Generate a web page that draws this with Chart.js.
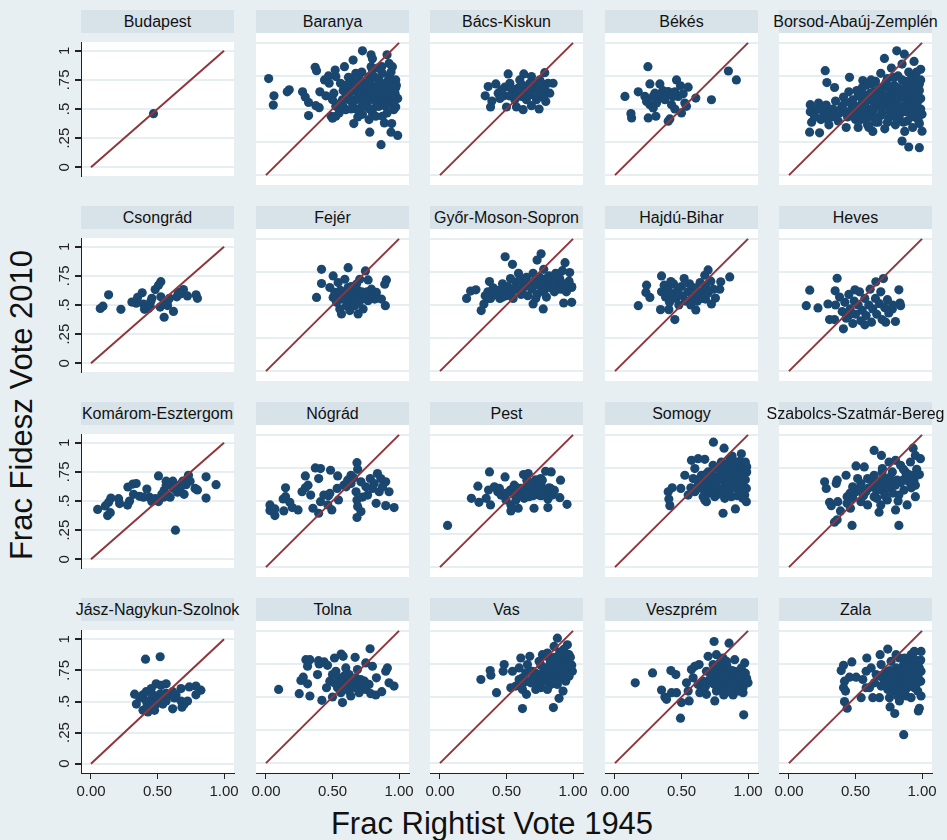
<!DOCTYPE html>
<html>
<head>
<meta charset="utf-8">
<script src="https://cdn.jsdelivr.net/npm/chart.js@4"></script>
<style>
body{margin:0;width:947px;height:840px;background:#e8eff2;position:relative;overflow:hidden;font-family:"Liberation Sans",Arial,Helvetica,sans-serif;color:#111}
.strip{position:absolute;height:23px;background:#d7e3e9;font-size:16px;line-height:23px;white-space:nowrap;display:flex;justify-content:center}
canvas{position:absolute}
.title{position:absolute;font-size:31px;line-height:36px;height:36px;text-align:center;white-space:nowrap}
</style>
</head>
<body>
<div class="title" style="left:292px;top:806px;width:400px">Frac Rightist Vote 1945</div>
<div class="title" style="left:-178px;top:387px;width:400px;transform:rotate(-90deg)">Frac Fidesz Vote 2010</div>
<script>
const xTicks = [0, 0.5, 1]
const xTickLabels = ["0.00", "0.50", "1.00"]
const yTicks = [0, 0.25, 0.5, 0.75, 1]
const yTickLabels = ["0", ".25", ".5", ".75", "1"]
const refLine = [[0, 0], [1, 1]]

const panelNames = ["Budapest", "Baranya", "Bács-Kiskun", "Békés", "Borsod-Abaúj-Zemplén",
    "Csongrád", "Fejér", "Győr-Moson-Sopron", "Hajdú-Bihar", "Heves",
    "Komárom-Esztergom", "Nógrád", "Pest", "Somogy", "Szabolcs-Szatmár-Bereg",
    "Jász-Nagykun-Szolnok", "Tolna", "Vas", "Veszprém", "Zala"]

const budapest = [[0.47,0.46]]
const baranya = [[0.02,0.73],[0.06,0.60],[0.055,0.53],[0.16,0.63],[0.175,0.645],[0.275,0.63],[0.295,0.59],[0.32,0.55],[0.32,0.45],[0.37,0.815],[0.38,0.79],[0.405,0.63],[0.375,0.525],[0.40,0.51],[0.44,0.72],[0.47,0.75],[0.52,0.795],[0.59,0.82],[0.45,0.60],[0.49,0.445],[0.50,0.43],[0.655,0.87],[0.725,0.94],[0.79,0.91],[0.80,0.88],[0.91,0.91],[0.66,0.39],[0.69,0.44],[0.78,0.325],[0.865,0.23],[0.89,0.395],[0.945,0.39],[0.94,0.325],[0.99,0.30],[0.925,0.845],[0.95,0.82],[0.975,0.66],[0.99,0.58],[0.975,0.515],
    [0.575,0.57],[0.60,0.62],[0.625,0.67],[0.65,0.72],[0.675,0.77],[0.70,0.595],[0.725,0.645],[0.75,0.695],[0.775,0.745],[0.80,0.795],[0.825,0.67],[0.85,0.72],[0.875,0.77],[0.90,0.695],[0.925,0.745],[0.95,0.67],[0.975,0.72],[0.925,0.62],[0.89,0.57],[0.85,0.52],[0.80,0.47],[0.75,0.52],[0.70,0.495],[0.65,0.545],[0.60,0.495],[0.55,0.47],[0.525,0.52],[0.56,0.545],[0.675,0.57],[0.725,0.57],[0.775,0.595],[0.81,0.57],[0.84,0.62],[0.875,0.63],[0.95,0.57],[0.96,0.495],[0.91,0.47],[0.875,0.445],[0.825,0.445],[0.775,0.42],[0.725,0.46],[0.625,0.57],[0.675,0.645],[0.79,0.645],[0.525,0.445],[0.50,0.57],[0.525,0.745],[0.56,0.695],[0.475,0.695],[0.51,0.62],[0.79,0.82],[0.84,0.81],[0.94,0.78],
    [0.62,0.74],[0.70,0.68],[0.74,0.62],[0.82,0.60],[0.86,0.66],[0.88,0.54],[0.92,0.56],[0.68,0.50],[0.58,0.64],[0.76,0.54],[0.97,0.62],[0.93,0.68],
    [0.60,0.68],[0.63,0.62],[0.66,0.66],[0.69,0.62],[0.71,0.72],[0.73,0.68],[0.76,0.66],[0.78,0.70],[0.80,0.62],[0.82,0.74],[0.84,0.56],[0.86,0.60],[0.88,0.68],[0.90,0.64],[0.92,0.72],[0.94,0.60],[0.96,0.54],[0.98,0.68],[0.72,0.52],[0.64,0.50],[0.58,0.52],[0.78,0.50],[0.83,0.52],[0.90,0.52],[0.87,0.82],[0.72,0.78],[0.67,0.70],[0.61,0.58]]
const bacsKiskun = [[0.3625,0.67],[0.42,0.69],[0.34,0.60],[0.39,0.56],[0.38,0.515],[0.4375,0.62],[0.48,0.60],[0.5125,0.765],[0.63,0.765],[0.4875,0.665],[0.525,0.695],[0.50,0.515],[0.575,0.515],[0.625,0.495],[0.6875,0.525],[0.745,0.50],[0.7875,0.775],[0.85,0.695],[0.825,0.62],[0.795,0.5575],
    [0.55,0.62],[0.5875,0.6575],[0.6125,0.595],[0.65,0.645],[0.675,0.695],[0.70,0.6075],[0.725,0.6575],[0.75,0.72],[0.7625,0.595],[0.7875,0.645],[0.8125,0.695],[0.5625,0.57],[0.65,0.57],[0.725,0.57],[0.6875,0.745],[0.60,0.72],[0.5375,0.6575],[0.4625,0.645],[0.62,0.68],[0.70,0.66],[0.74,0.62],[0.58,0.60],[0.66,0.60],[0.77,0.69],[0.52,0.60],[0.45,0.58],
    [0.64,0.62],[0.68,0.64],[0.72,0.60],[0.76,0.64],[0.70,0.70],[0.78,0.60],[0.60,0.64],[0.66,0.66]]
const bekes = [[0.2475,0.82],[0.075,0.595],[0.175,0.63],[0.2625,0.69],[0.3375,0.69],[0.12,0.465],[0.125,0.4325],[0.25,0.4325],[0.3075,0.445],[0.40,0.4075],[0.4125,0.425],[0.4625,0.72],[0.4925,0.675],[0.55,0.665],[0.6075,0.5825],[0.725,0.57],[0.8525,0.7875],[0.9125,0.72],
    [0.225,0.595],[0.2375,0.5575],[0.2625,0.5325],[0.2875,0.5075],[0.325,0.5825],[0.35,0.62],[0.375,0.57],[0.40,0.6325],[0.425,0.5325],[0.45,0.50],[0.475,0.595],[0.5125,0.615],[0.525,0.545],[0.50,0.47],[0.5375,0.52],[0.3125,0.545],[0.2875,0.595],[0.4375,0.595],[0.36,0.64],[0.39,0.60],[0.45,0.63],[0.30,0.62]]
const borsod = [[0.2725,0.79],[0.16,0.5325],[0.155,0.325],[0.23,0.32],[0.2225,0.545],[0.285,0.70],[0.3425,0.6625],[0.455,0.74],[0.555,0.715],[0.6175,0.72],[0.7175,0.8825],[0.81,0.94],[0.8675,0.915],[0.85,0.2575],[0.90,0.2125],[0.98,0.2075],[1.0,0.3325],
    [0.16,0.48],[0.17,0.40],[0.19,0.45],[0.21,0.5],[0.24,0.42],[0.26,0.47],[0.28,0.53],[0.3,0.38],[0.32,0.44],[0.33,0.5],[0.35,0.56],[0.37,0.41],[0.38,0.47],[0.4,0.52],[0.41,0.59],[0.43,0.36],[0.44,0.44],[0.45,0.63],
    [0.47,0.5],[0.48,0.57],[0.5,0.42],[0.51,0.64],[0.52,0.36],[0.53,0.48],[0.55,0.55],[0.56,0.61],[0.57,0.44],[0.58,0.68],[0.59,0.38],[0.6,0.5],[0.62,0.57],[0.63,0.33],[0.63,0.45],[0.64,0.63],[0.65,0.71],[0.66,0.52],[0.67,0.4],[0.68,0.59],[0.69,0.77],[0.7,0.47],[0.71,0.66],[0.72,0.35],[0.73,0.55],[0.74,0.73],[0.75,0.43],[0.76,0.61],[0.77,0.81],[0.78,0.5],[0.79,0.68],[0.8,0.38],[0.81,0.57],[0.82,0.75],[0.83,0.45],[0.84,0.64],[0.85,0.84],[0.86,0.52],[0.87,0.33],[0.87,0.71],[0.88,0.6],[0.89,0.41],[0.9,0.78],[0.91,0.49],[0.92,0.67],[0.93,0.36],[0.93,0.56],[0.94,0.86],[0.95,0.44],[0.95,0.74],[0.96,0.62],[0.97,0.51],[0.98,0.69],[0.98,0.39],[0.99,0.8],[0.99,0.58],[1.0,0.46],[0.62,0.69],[0.7,0.6],[0.8,0.46],[0.9,0.55],[0.85,0.62],[0.75,0.52],
    [0.46,0.55],[0.49,0.46],[0.52,0.6],[0.54,0.42],[0.56,0.5],[0.58,0.56],[0.6,0.44],[0.61,0.62],[0.64,0.5],[0.65,0.4],[0.67,0.56],[0.68,0.66],[0.69,0.45],[0.71,0.52],[0.72,0.6],[0.73,0.7],[0.74,0.4],[0.76,0.48],[0.77,0.56],[0.78,0.64],[0.79,0.74],[0.8,0.54],[0.81,0.43],[0.82,0.66],[0.83,0.58],[0.84,0.5],[0.85,0.72],[0.86,0.4],[0.86,0.6],[0.88,0.48],[0.88,0.68],[0.89,0.56],[0.9,0.64],[0.91,0.72],[0.92,0.44],[0.92,0.52],[0.94,0.6],[0.94,0.7],[0.96,0.47],[0.96,0.78],[0.97,0.56],[0.98,0.64],[0.99,0.5],[0.99,0.72],[0.55,0.66],[0.6,0.36],[0.66,0.6],[0.7,0.55],[0.75,0.66],[0.8,0.6],[0.87,0.52],[0.93,0.64],[0.97,0.42],[0.35,0.45],[0.39,0.5],[0.42,0.48],[0.3,0.47],[0.27,0.43],[0.2,0.44],[0.25,0.52],[0.42,0.55],[0.5,0.52],[0.57,0.6],[0.63,0.56]]
const csongrad = [[0.07,0.47],[0.09,0.49],[0.1325,0.5875],[0.225,0.4625],[0.3075,0.525],[0.34,0.515],[0.35,0.565],[0.385,0.605],[0.395,0.5075],[0.4025,0.4625],[0.4325,0.47],[0.445,0.49],[0.4575,0.5575],[0.45,0.5325],[0.4825,0.6325],[0.5075,0.67],[0.525,0.70],[0.525,0.57],[0.52,0.4825],[0.545,0.5075],[0.55,0.395],[0.575,0.5325],[0.59,0.5575],[0.575,0.495],[0.62,0.445],[0.645,0.57],[0.6575,0.6075],[0.695,0.6325],[0.67,0.595],[0.725,0.5775],[0.79,0.5875],[0.80,0.5575]]
const fejer = [[0.4175,0.77],[0.4175,0.6625],[0.38,0.5575],[0.505,0.72],[0.6175,0.7825],[0.7475,0.7575],[0.7675,0.69],[0.905,0.69],[0.8925,0.6575],[0.5675,0.4325],[0.6925,0.4325],[0.8975,0.495],
    [0.48,0.6325],[0.5175,0.595],[0.5425,0.67],[0.5925,0.695],[0.5675,0.545],[0.605,0.495],[0.6425,0.57],[0.68,0.6575],[0.6925,0.6075],[0.6175,0.6325],[0.53,0.52],[0.555,0.47],[0.6675,0.495],[0.7175,0.545],[0.7425,0.5825],[0.7925,0.62],[0.83,0.595],[0.8175,0.545],[0.8675,0.545],[0.7675,0.5325],[0.73,0.47],[0.63,0.4575],[0.505,0.5575],[0.5925,0.5825],[0.655,0.5325],[0.705,0.695],[0.7925,0.57],[0.56,0.61],[0.64,0.64],[0.70,0.58],[0.60,0.54],[0.76,0.60],
    [0.62,0.60],[0.66,0.56],[0.68,0.62],[0.72,0.60],[0.75,0.56],[0.78,0.58],[0.58,0.56],[0.64,0.52],[0.70,0.52],[0.55,0.59]]
const gyor = [[0.49,0.865],[0.76,0.8875],[0.73,0.84],[0.545,0.8075],[0.94,0.82],[0.20,0.55],[0.23,0.605],[0.27,0.615],[0.31,0.4575],[0.33,0.5075],[0.372,0.6775],[0.70,0.5075],[0.776,0.47],[0.93,0.515],[0.99,0.52],[0.975,0.745],[0.99,0.6325],
    [0.34,0.57],[0.36,0.6],[0.38,0.55],[0.4,0.63],[0.42,0.58],[0.44,0.61],[0.45,0.55],[0.47,0.66],[0.48,0.6],[0.5,0.57],[0.51,0.64],[0.53,0.7],[0.54,0.6],[0.55,0.55],[0.57,0.67],[0.58,0.62],[0.59,0.74],[0.61,0.58],[0.62,0.68],[0.63,0.64],[0.65,0.71],[0.66,0.57],[0.67,0.66],[0.69,0.62],[0.7,0.74],[0.71,0.68],[0.73,0.58],[0.74,0.65],[0.75,0.71],[0.77,0.62],[0.78,0.77],[0.79,0.67],[0.8,0.56],[0.82,0.72],[0.83,0.63],[0.84,0.68],[0.86,0.6],[0.87,0.74],[0.88,0.66],[0.9,0.7],[0.91,0.62],[0.92,0.76],[0.94,0.66],[0.95,0.6],[0.97,0.68],[0.99,0.64],[0.4,0.58],[0.47,0.56],[0.6,0.7],[0.72,0.55],
    [0.62,0.62],[0.64,0.68],[0.68,0.64],[0.72,0.66],[0.76,0.64],[0.78,0.60],[0.80,0.70],[0.82,0.64],[0.85,0.66],[0.88,0.62],[0.89,0.70],[0.93,0.64],[0.96,0.66],[0.56,0.62],[0.52,0.58],[0.44,0.57],[0.36,0.55]]
const hajdu = [[0.175,0.495],[0.2375,0.65],[0.2325,0.595],[0.2625,0.5575],[0.35,0.72],[0.42,0.6775],[0.3425,0.465],[0.405,0.465],[0.45,0.39],[0.70,0.765],[0.675,0.725],[0.8625,0.7125],[0.795,0.675],[0.7875,0.62],[0.755,0.5525],[0.725,0.5075],[0.68,0.545],[0.6075,0.4625],
    [0.35,0.6],[0.37,0.65],[0.38,0.56],[0.4,0.62],[0.41,0.52],[0.43,0.58],[0.44,0.66],[0.46,0.55],[0.47,0.61],[0.48,0.5],[0.5,0.64],[0.51,0.57],[0.52,0.7],[0.53,0.53],[0.55,0.6],[0.56,0.66],[0.57,0.5],[0.58,0.56],[0.6,0.63],[0.61,0.58],[0.62,0.53],[0.64,0.67],[0.65,0.6],[0.66,0.55],[0.68,0.64],[0.7,0.59],[0.72,0.68],[0.74,0.62]]
const heves = [[0.13,0.495],[0.156,0.6125],[0.218,0.4775],[0.362,0.7025],[0.293,0.5075],[0.305,0.39],[0.342,0.39],[0.347,0.6075],[0.409,0.32],[0.496,0.615],[0.71,0.70],[0.653,0.675],[0.826,0.615],[0.834,0.515],[0.839,0.495],[0.727,0.37],[0.80,0.375],[0.777,0.47],
    [0.35,0.5],[0.38,0.56],[0.4,0.45],[0.42,0.52],[0.43,0.4],[0.45,0.58],[0.46,0.47],[0.48,0.36],[0.49,0.53],[0.5,0.43],[0.52,0.5],[0.53,0.6],[0.54,0.38],[0.55,0.46],[0.57,0.55],[0.58,0.42],[0.6,0.5],[0.61,0.62],[0.62,0.37],[0.63,0.47],[0.65,0.55],[0.66,0.43],[0.68,0.51],[0.69,0.6],[0.7,0.39],[0.72,0.48],[0.74,0.54],[0.75,0.44],[0.78,0.5],[0.57,0.35],[0.45,0.42]]
const komarom = [[0.05,0.4275],[0.1075,0.4575],[0.1325,0.49],[0.15,0.525],[0.125,0.375],[0.145,0.40],[0.2075,0.52],[0.215,0.4775],[0.275,0.465],[0.29,0.50],[0.32,0.5575],[0.2775,0.62],[0.315,0.645],[0.34,0.65],[0.365,0.54],[0.395,0.5325],[0.42,0.6025],[0.44,0.5325],[0.4575,0.495],[0.5075,0.495],[0.5075,0.715],[0.5325,0.5575],[0.55,0.59],[0.565,0.6325],[0.575,0.545],[0.595,0.5325],[0.615,0.67],[0.6325,0.6325],[0.65,0.575],[0.67,0.6075],[0.70,0.5575],[0.715,0.64],[0.7325,0.72],[0.72,0.6825],[0.745,0.67],[0.635,0.25],[0.7825,0.6075],[0.80,0.595],[0.865,0.7075],[0.865,0.525],[0.94,0.64],
    [0.565,0.67],[0.59,0.6575],[0.62,0.6075],[0.67,0.64],[0.69,0.67],[0.545,0.5325],[0.4825,0.52]]
const nograd = [[0.03,0.47],[0.03,0.4275],[0.067,0.39],[0.067,0.44],[0.134,0.425],[0.129,0.515],[0.147,0.5325],[0.147,0.60],[0.179,0.49],[0.197,0.45],[0.241,0.4325],[0.271,0.57],[0.296,0.60],[0.316,0.62],[0.296,0.69],[0.371,0.75],[0.410,0.745],[0.485,0.7325],[0.539,0.69],[0.396,0.67],[0.336,0.545],[0.353,0.445],[0.396,0.4075],[0.410,0.495],[0.435,0.545],[0.470,0.54],[0.495,0.4325],[0.465,0.47],[0.480,0.5575],[0.535,0.595],[0.545,0.5075],[0.585,0.62],[0.614,0.6575],[0.639,0.695],[0.684,0.79],[0.689,0.74],[0.677,0.57],[0.684,0.5075],[0.689,0.4575],[0.684,0.375],[0.714,0.42],[0.726,0.53],
    [0.751,0.6075],[0.784,0.67],[0.813,0.6325],[0.838,0.7075],[0.863,0.67],[0.851,0.57],[0.900,0.645],[0.925,0.57],[0.828,0.4825],[0.900,0.465],[0.963,0.45],[0.764,0.545],[0.801,0.595],[0.876,0.6075],[0.639,0.6325],[0.602,0.6075],[0.714,0.645],[0.659,0.675]]
const pest = [[0.057,0.315],[0.236,0.52],[0.293,0.49],[0.285,0.6125],[0.372,0.72],[0.365,0.5825],[0.347,0.52],[0.380,0.47],[0.409,0.6075],[0.434,0.57],[0.459,0.545],[0.489,0.6825],[0.496,0.5075],[0.533,0.425],[0.588,0.445],[0.533,0.47],[0.529,0.5825],[0.558,0.62],[0.588,0.5575],[0.608,0.595],[0.628,0.70],[0.663,0.7075],[0.653,0.6575],
    [0.670,0.5325],[0.682,0.57],[0.707,0.445],[0.712,0.62],[0.732,0.645],[0.757,0.67],[0.782,0.5575],[0.794,0.725],[0.836,0.72],[0.769,0.6575],[0.811,0.515],[0.811,0.45],[0.906,0.6575],[0.901,0.525],[0.955,0.475],[0.831,0.595],[0.844,0.545],[0.744,0.545],[0.633,0.52],[0.571,0.5075],[0.447,0.595],
    [0.60,0.56],[0.66,0.60],[0.72,0.57],[0.76,0.62],[0.78,0.58],[0.70,0.64],[0.64,0.53],[0.56,0.55],[0.50,0.56],[0.82,0.60],
    [0.62,0.58],[0.68,0.60],[0.74,0.60],[0.80,0.56],[0.70,0.54],[0.66,0.64],[0.76,0.54],[0.58,0.60],[0.86,0.58],[0.72,0.66]]
const somogy = [[0.4125,0.465],[0.405,0.515],[0.40,0.57],[0.43,0.60],[0.495,0.595],[0.525,0.695],[0.575,0.8075],[0.625,0.82],[0.675,0.815],[0.60,0.745],[0.74,0.945],[0.82,0.90],[0.95,0.8575],[0.8125,0.4075],[0.905,0.44],[0.6875,0.495],[0.675,0.5075],[0.75,0.5325],[0.825,0.52],[0.875,0.5325],[0.9875,0.495],[0.975,0.545],[0.99,0.72],[0.98,0.795],
    [0.55,0.545],[0.60,0.57],[0.625,0.62],[0.5875,0.67],[0.65,0.695],[0.70,0.6575],[0.725,0.6075],[0.7625,0.67],[0.775,0.745],[0.80,0.795],[0.85,0.77],[0.8875,0.72],[0.925,0.695],[0.9625,0.6575],[0.9875,0.595],[0.9375,0.57],[0.875,0.595],[0.825,0.62],[0.80,0.57],[0.75,0.57],[0.70,0.5575],[0.6625,0.5325],[0.65,0.595],[0.70,0.72],[0.7375,0.77],[0.8375,0.67],[0.90,0.645],[0.95,0.7575],[0.8625,0.82],[0.9125,0.795],[0.7875,0.695],[0.725,0.7075],[0.675,0.645],[0.8125,0.72],
    [0.66,0.60],[0.68,0.70],[0.71,0.63],[0.73,0.68],[0.76,0.62],[0.78,0.66],[0.79,0.58],[0.81,0.68],[0.83,0.74],[0.84,0.60],[0.86,0.64],[0.87,0.70],[0.89,0.60],[0.89,0.76],[0.91,0.66],[0.92,0.72],[0.93,0.62],[0.94,0.80],[0.95,0.64],[0.96,0.70],[0.97,0.60],[0.98,0.66],[0.99,0.76],[0.85,0.56],[0.92,0.54],[0.77,0.55],[0.72,0.58],[0.62,0.66],[0.57,0.60],[0.82,0.78],[0.96,0.52],[0.88,0.84]]
const szabolcs = [[0.268,0.645],[0.280,0.595],[0.362,0.6575],[0.355,0.6325],[0.305,0.49],[0.318,0.465],[0.367,0.495],[0.387,0.425],[0.342,0.34],[0.362,0.3575],[0.474,0.315],[0.826,0.315],[0.640,0.8825],[0.695,0.845],[0.933,0.90],[0.950,0.845],[0.988,0.82],[0.913,0.795],[0.429,0.695],[0.504,0.765],[0.566,0.7575],[0.437,0.5325],[0.462,0.445],[0.437,0.4825],
    [0.504,0.57],[0.541,0.6325],[0.591,0.67],[0.640,0.695],[0.702,0.745],[0.752,0.795],[0.801,0.8075],[0.839,0.77],[0.876,0.72],[0.926,0.695],[0.950,0.62],[0.950,0.5325],[0.888,0.47],[0.801,0.4325],[0.677,0.415],[0.591,0.47],[0.541,0.495],[0.640,0.5325],[0.715,0.57],[0.764,0.62],[0.814,0.6575],[0.864,0.5825],[0.901,0.645],[0.739,0.5075],[0.690,0.47],[0.578,0.57],[0.628,0.6075],[0.677,0.645],[0.727,0.67],[0.777,0.72],[0.826,0.545],[0.516,0.67],[0.479,0.6075],
    [0.60,0.60],[0.66,0.58],[0.72,0.62],[0.78,0.56],[0.84,0.64],[0.88,0.68],[0.70,0.72],[0.62,0.66],[0.76,0.68],[0.56,0.54],[0.82,0.50],[0.92,0.60],
    [0.64,0.62],[0.68,0.60],[0.70,0.66],[0.74,0.60],[0.80,0.62],[0.86,0.66],[0.90,0.70],[0.94,0.66],[0.96,0.74],[0.98,0.70],[0.66,0.52],[0.72,0.54],[0.86,0.74],[0.54,0.60],[0.46,0.56],[0.48,0.52]]
const jasz = [[0.41,0.84],[0.52,0.86],[0.328,0.559],[0.341,0.479],[0.391,0.554],[0.415,0.579],[0.453,0.604],[0.49,0.642],[0.527,0.629],[0.565,0.642],[0.59,0.554],[0.614,0.579],[0.627,0.529],[0.515,0.529],[0.49,0.479],[0.453,0.454],[0.428,0.416],[0.391,0.429],[0.453,0.516],[0.54,0.479],[0.565,0.504],[0.639,0.554],[0.677,0.604],[0.677,0.504],[0.684,0.454],[0.701,0.479],[0.726,0.504],[0.739,0.617],[0.789,0.554],[0.789,0.624],[0.826,0.591],[0.614,0.441],[0.478,0.429],[0.415,0.504],[0.366,0.529],[0.565,0.566],[0.465,0.554],
    [0.44,0.50],[0.50,0.52],[0.47,0.47],[0.52,0.56],[0.42,0.46]]
const tolna = [[0.095,0.5575],[0.25,0.525],[0.33,0.5075],[0.42,0.475],[0.50,0.50],[0.575,0.4575],[0.2625,0.625],[0.28,0.65],[0.3125,0.60],[0.30,0.7825],[0.33,0.7825],[0.3125,0.7325],[0.3875,0.67],[0.40,0.75],[0.395,0.775],[0.4375,0.765],[0.4625,0.74],[0.515,0.795],[0.565,0.825],[0.58,0.8075],[0.67,0.80],[0.7825,0.865],[0.75,0.7575],[0.80,0.7325],
    [0.455,0.57],[0.48,0.62],[0.50,0.67],[0.525,0.695],[0.55,0.645],[0.575,0.595],[0.60,0.72],[0.625,0.67],[0.65,0.62],[0.675,0.57],[0.6875,0.7075],[0.70,0.5325],[0.725,0.595],[0.75,0.5575],[0.775,0.595],[0.625,0.545],[0.6375,0.5075],[0.5375,0.57],[0.5625,0.5325],[0.60,0.62],[0.675,0.645],[0.5125,0.6075],[0.7125,0.6325],
    [0.7875,0.525],[0.825,0.515],[0.87,0.54],[0.83,0.645],[0.90,0.695],[0.9125,0.72],[0.925,0.6075],[0.9625,0.5825],
    [0.59,0.66],[0.62,0.60],[0.66,0.58],[0.68,0.62],[0.70,0.60],[0.72,0.56],[0.64,0.64],[0.56,0.62],[0.74,0.62],[0.60,0.58]]
const vas = [[0.3075,0.6325],[0.3775,0.70],[0.3825,0.665],[0.425,0.5325],[0.4825,0.745],[0.475,0.695],[0.62,0.4125],[0.8525,0.42],[0.895,0.49],[0.925,0.545],[0.5325,0.57],[0.57,0.5825],[0.62,0.5575],[0.65,0.52],[0.6075,0.795],[0.675,0.8075],[0.77,0.82],[0.8075,0.8325],[0.8575,0.8825],[0.8825,0.945],[0.9575,0.895],[0.97,0.82],[0.9825,0.745],[0.995,0.695],[0.97,0.6575],
    [0.545,0.695],[0.595,0.72],[0.62,0.645],[0.6575,0.745],[0.695,0.695],[0.72,0.62],[0.745,0.77],[0.77,0.67],[0.795,0.72],[0.82,0.795],[0.8325,0.595],[0.87,0.745],[0.895,0.67],[0.92,0.77],[0.945,0.62],[0.8575,0.645],[0.7575,0.57],[0.72,0.5575],[0.6825,0.6075],[0.7825,0.62],[0.8825,0.595],[0.92,0.82],[0.8075,0.5575],[0.595,0.6325],[0.645,0.6825],[0.845,0.695],[0.9325,0.7075],
    [0.75,0.65],[0.80,0.68],[0.85,0.72],[0.90,0.78],[0.95,0.75],[0.97,0.70],[0.88,0.62],[0.78,0.70],[0.83,0.76],[0.93,0.66],[0.70,0.64],[0.65,0.62],[0.74,0.58],[0.86,0.80],[0.96,0.82],
    [0.72,0.68],[0.76,0.74],[0.79,0.64],[0.81,0.70],[0.84,0.66],[0.86,0.62],[0.87,0.70],[0.89,0.74],[0.91,0.70],[0.92,0.64],[0.94,0.72],[0.95,0.78],[0.96,0.66],[0.98,0.80],[0.99,0.74],[0.90,0.84],[0.93,0.86],[0.82,0.64],[0.67,0.70],[0.62,0.60]]
const veszprem = [[0.1525,0.6075],[0.2825,0.6825],[0.35,0.5525],[0.375,0.50],[0.3875,0.4825],[0.425,0.5325],[0.4625,0.5325],[0.42,0.70],[0.4575,0.67],[0.4925,0.34],[0.50,0.4575],[0.5575,0.47],[0.745,0.92],[0.8575,0.9075],[0.9675,0.365],[0.75,0.47],[0.8175,0.515],[0.8875,0.515],[0.9625,0.5325],[0.70,0.8075],[0.7625,0.82],[0.8125,0.795],[0.90,0.7825],[0.975,0.7575],[0.9875,0.6325],[1.0,0.6075],
    [0.5375,0.6075],[0.55,0.545],[0.575,0.7075],[0.60,0.7325],[0.6325,0.745],[0.5875,0.645],[0.625,0.595],[0.6625,0.545],[0.6875,0.695],[0.7125,0.62],[0.7375,0.745],[0.775,0.67],[0.80,0.5825],[0.825,0.72],[0.85,0.6325],[0.875,0.5575],[0.90,0.695],[0.925,0.6075],[0.95,0.72],[0.9625,0.57],[0.7625,0.545],[0.6875,0.52],[0.6375,0.5325],[0.8375,0.77],[0.7875,0.7575],[0.75,0.595],[0.875,0.6575],[0.925,0.545],[0.8125,0.62],[0.725,0.67],
    [0.70,0.62],[0.74,0.60],[0.80,0.64],[0.84,0.68],[0.86,0.58],[0.90,0.64],[0.94,0.66],[0.78,0.70],[0.66,0.62],[0.82,0.55],[0.92,0.58],[0.98,0.68],
    [0.72,0.65],[0.76,0.62],[0.78,0.66],[0.79,0.60],[0.81,0.68],[0.83,0.62],[0.85,0.66],[0.87,0.62],[0.88,0.70],[0.89,0.60],[0.91,0.66],[0.93,0.62],[0.95,0.62],[0.96,0.66],[0.97,0.60],[0.99,0.64],[0.84,0.74],[0.74,0.70],[0.68,0.58],[0.86,0.54]]
const zala = [[0.3925,0.70],[0.41,0.74],[0.4725,0.765],[0.585,0.795],[0.685,0.82],[0.7425,0.8625],[0.4175,0.62],[0.41,0.57],[0.425,0.545],[0.455,0.65],[0.505,0.65],[0.4175,0.465],[0.4375,0.415],[0.5425,0.495],[0.63,0.495],[0.68,0.495],[0.76,0.425],[0.795,0.375],[0.83,0.47],[0.8625,0.215],[0.9725,0.395],[0.98,0.415],[0.9425,0.845],[0.9925,0.845],[0.98,0.77],[0.9925,0.5075],
    [0.58,0.695],[0.6175,0.72],[0.655,0.67],[0.6925,0.745],[0.73,0.695],[0.7675,0.77],[0.805,0.72],[0.83,0.795],[0.855,0.67],[0.8925,0.745],[0.9175,0.82],[0.955,0.695],[0.98,0.62],[0.9425,0.57],[0.8925,0.595],[0.8425,0.57],[0.7925,0.545],[0.7425,0.5575],[0.6925,0.5825],[0.6425,0.6075],[0.605,0.57],[0.705,0.645],[0.78,0.6325],[0.88,0.5075],[0.9175,0.495],[0.8175,0.5075],[0.755,0.495],[0.555,0.6325],[0.58,0.57],[0.9675,0.545],[0.805,0.82],[0.8675,0.795],[0.93,0.645],[0.9925,0.695],
    [0.72,0.62],[0.76,0.70],[0.82,0.66],[0.86,0.74],[0.90,0.68],[0.94,0.74],[0.96,0.60],[0.88,0.56],[0.84,0.60],[0.78,0.58],[0.98,0.72],[0.92,0.80],
    [0.74,0.66],[0.77,0.60],[0.80,0.68],[0.81,0.62],[0.83,0.70],[0.85,0.64],[0.87,0.62],[0.88,0.72],[0.89,0.66],[0.91,0.62],[0.91,0.72],[0.93,0.68],[0.95,0.62],[0.95,0.78],[0.97,0.66],[0.99,0.62],[0.99,0.78],[0.86,0.54],[0.90,0.58],[0.75,0.62],[0.68,0.66],[0.94,0.84]]

const panelPoints = [budapest, baranya, bacsKiskun, bekes, borsod,
    csongrad, fejer, gyor, hajdu, heves,
    komarom, nograd, pest, somogy, szabolcs,
    jasz, tolna, vas, veszprem, zala]

const plotBg = {
    id: "plotBg",
    beforeDraw(chart) {
        const { ctx, chartArea: a } = chart
        ctx.save()
        ctx.fillStyle = "#ffffff"
        ctx.fillRect(a.left, a.top, a.right - a.left, a.bottom - a.top)
        ctx.restore()
    }
}

const tickFont = { family: "'Liberation Sans', Arial, sans-serif", size: 15 }

panelNames.forEach((name, i) => {
    const r = Math.floor(i / 5), c = i % 5
    const left = Math.round(81 + 174.5 * c)
    const top = 33 + 196 * r
    const padL = c == 0 ? 50 : 14, padR = 14
    const padB = r == 3 ? 45 : 0

    const strip = document.createElement("div")
    strip.className = "strip"
    strip.style.left = left + "px"
    strip.style.top = (top - 23) + "px"
    strip.style.width = "153px"
    strip.innerHTML = "<span>" + name + "</span>"
    document.body.appendChild(strip)

    const cv = document.createElement("canvas")
    cv.width = 153 + padL + padR
    cv.height = 152 + padB
    cv.style.left = (left - padL) + "px"
    cv.style.top = top + "px"
    document.body.appendChild(cv)

    new Chart(cv.getContext("2d"), {
        type: "scatter",
        data: {
            datasets: [
                {
                    type: "line",
                    data: refLine.map(p => ({ x: p[0], y: p[1] })),
                    borderColor: "#90353b",
                    borderWidth: 2,
                    pointRadius: 0,
                    fill: false
                },
                {
                    data: panelPoints[i].map(p => ({ x: p[0], y: p[1] })),
                    backgroundColor: "#1a476f",
                    borderWidth: 0,
                    pointRadius: 4.6
                }
            ]
        },
        options: {
            responsive: false,
            animation: false,
            layout: { autoPadding: false, padding: { left: c == 0 ? 0 : padL, right: padR, top: 0, bottom: 0 } },
            plugins: { legend: { display: false }, tooltip: { enabled: false } },
            scales: {
                x: {
                    min: -0.075, max: 1.075,
                    afterBuildTicks: s => { s.ticks = xTicks.map(v => ({ value: v })) },
                    afterFit: s => { s.height = padB },
                    ticks: { display: r == 3, font: tickFont, color: "#222", padding: 4, maxRotation: 0, callback: (v, k) => xTickLabels[k] },
                    grid: { display: r == 3, drawOnChartArea: false, tickLength: 6, tickColor: "#222" },
                    border: { display: r == 3, color: "#222", width: 1 }
                },
                y: {
                    min: -0.075, max: 1.075,
                    afterBuildTicks: s => { s.ticks = yTicks.map(v => ({ value: v })) },
                    afterFit: s => { s.width = c == 0 ? 50 : 0 },
                    ticks: { display: c == 0, font: tickFont, color: "#222", padding: 0, minRotation: 90, maxRotation: 90, crossAlign: "center", callback: (v, k) => yTickLabels[k] },
                    grid: { color: "#e6eef1", lineWidth: 2, drawTicks: c == 0, tickLength: 6, tickColor: "#222" },
                    border: { display: c == 0, color: "#222", width: 1 }
                }
            }
        },
        plugins: [plotBg]
    })
})
</script>
</body>
</html>
